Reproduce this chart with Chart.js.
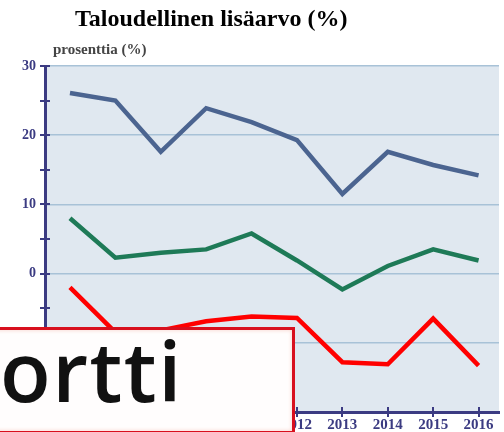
<!DOCTYPE html>
<html>
<head>
<meta charset="utf-8">
<script src="https://cdn.jsdelivr.net/npm/chart.js@4"></script>
<style>
  html, body { margin: 0; padding: 0; background: #fff; overflow: hidden; }
  #wrap { position: relative; width: 504px; height: 432px; }
  #title { position: absolute; left: 75px; top: 5px; font: bold 24px "Liberation Serif", serif; color: #000; white-space: nowrap; }
  #ytitle { position: absolute; left: 53px; top: 41px; font: bold 15px "Liberation Serif", serif; color: #444; white-space: nowrap; }
  #box { position: absolute; left: -10px; top: 327px; width: 299px; height: 101px; border: 3px solid #d8101e; background: #fffdfd; box-shadow: inset 0 0 4px #f7d0c8; overflow: hidden; }
  #box span { position: absolute; left: 7px; top: -2px; font: 600 83px "Open Sans", sans-serif; letter-spacing: 1.5px; line-height: 1; color: #111; white-space: nowrap; }
</style>
</head>
<body>
<div id="wrap">
  <canvas id="chart"></canvas>
  <div id="title">Taloudellinen lisäarvo (%)</div>
  <div id="ytitle">prosenttia (%)</div>
  <div id="box"><span>ortti</span></div>
</div>
<script>
const vuodet = [2007, 2008, 2009, 2010, 2011, 2012, 2013, 2014, 2015, 2016];
const sarja1 = [26.1, 25.0, 17.6, 23.9, 21.9, 19.3, 11.5, 17.6, 15.7, 14.2];
const sarja2 = [8.0, 2.3, 3.0, 3.5, 5.8, 1.9, -2.3, 1.1, 3.5, 1.9];
const sarja3 = [-2.0, -8.5, -8.2, -6.9, -6.2, -6.4, -12.8, -13.1, -6.5, -13.3];
const yTicks = [-20, -10, 0, 10, 20, 30];

const navy = '#3b3b82';

function pisteet(arvot) {
    return vuodet.map((v, i) => ({ x: v, y: arvot[i] }));
}

// taustavari ja akselien tikit jotka menevat akselin yli
const tausta = {
    id: 'tausta',
    beforeDraw(chart) {
        const a = chart.chartArea, ctx = chart.ctx;
        ctx.save();
        ctx.fillStyle = '#e0e8f0';
        ctx.fillRect(a.left, a.top, a.right - a.left, a.bottom - a.top);
        ctx.restore();
    },
    afterDraw(chart) {
        const ctx = chart.ctx, a = chart.chartArea;
        const y = chart.scales.y, x = chart.scales.x;
        ctx.save();
        ctx.strokeStyle = navy;
        ctx.lineWidth = 2;
        for (let v = -20; v <= 30; v += 5) {
            const py = Math.round(y.getPixelForValue(v));
            ctx.beginPath();
            ctx.moveTo(a.left - 5, py);
            ctx.lineTo(a.left + 5, py);
            ctx.stroke();
        }
        vuodet.forEach(v => {
            const px = Math.round(x.getPixelForValue(v));
            ctx.beginPath();
            ctx.moveTo(px, a.bottom - 5);
            ctx.lineTo(px, a.bottom + 5);
            ctx.stroke();
        });
        ctx.restore();
    }
};

const ctx = document.getElementById('chart').getContext('2d');
const chart = new Chart(ctx, {
    type: 'line',
    data: {
        datasets: [
            { label: 'sarja 1', data: pisteet(sarja1), borderColor: '#4b6490', borderWidth: 4.5 },
            { label: 'sarja 2', data: pisteet(sarja2), borderColor: '#1e7a57', borderWidth: 4.5 },
            { label: 'sarja 3', data: pisteet(sarja3), borderColor: '#ff0000', borderWidth: 4.5 }
        ]
    },
    options: {
        responsive: true,
        maintainAspectRatio: false,
        animation: false,
        elements: { point: { radius: 0 }, line: { tension: 0, borderCapStyle: 'butt', borderJoinStyle: 'miter' } },
        layout: { padding: { top: 66, right: 5, left: 0, bottom: 0 } },
        plugins: { legend: { display: false }, title: { display: false }, tooltip: { enabled: false } },
        scales: {
            x: {
                type: 'linear',
                min: 2006.45,
                max: 2016.45,
                afterBuildTicks: s => { s.ticks = vuodet.map(v => ({ value: v })); },
                afterFit: s => { s.height = 20; },
                grid: { display: false, drawTicks: false },
                border: { color: navy, width: 3 },
                ticks: {
                    padding: 4,
                    color: navy,
                    font: { family: 'Liberation Serif', size: 15, weight: 'bold' },
                    callback: v => String(v)
                }
            },
            y: {
                min: -20,
                max: 30,
                afterBuildTicks: s => { s.ticks = yTicks.map(v => ({ value: v })); },
                afterFit: s => { s.width = 45; },
                grid: { color: '#a8c2d7', lineWidth: 1.5, drawTicks: false },
                border: { color: navy, width: 3 },
                ticks: {
                    padding: 9,
                    color: navy,
                    font: { family: 'Liberation Serif', size: 14, weight: 'bold' }
                }
            }
        }
    },
    plugins: [tausta]
});
</script>
</body>
</html>
